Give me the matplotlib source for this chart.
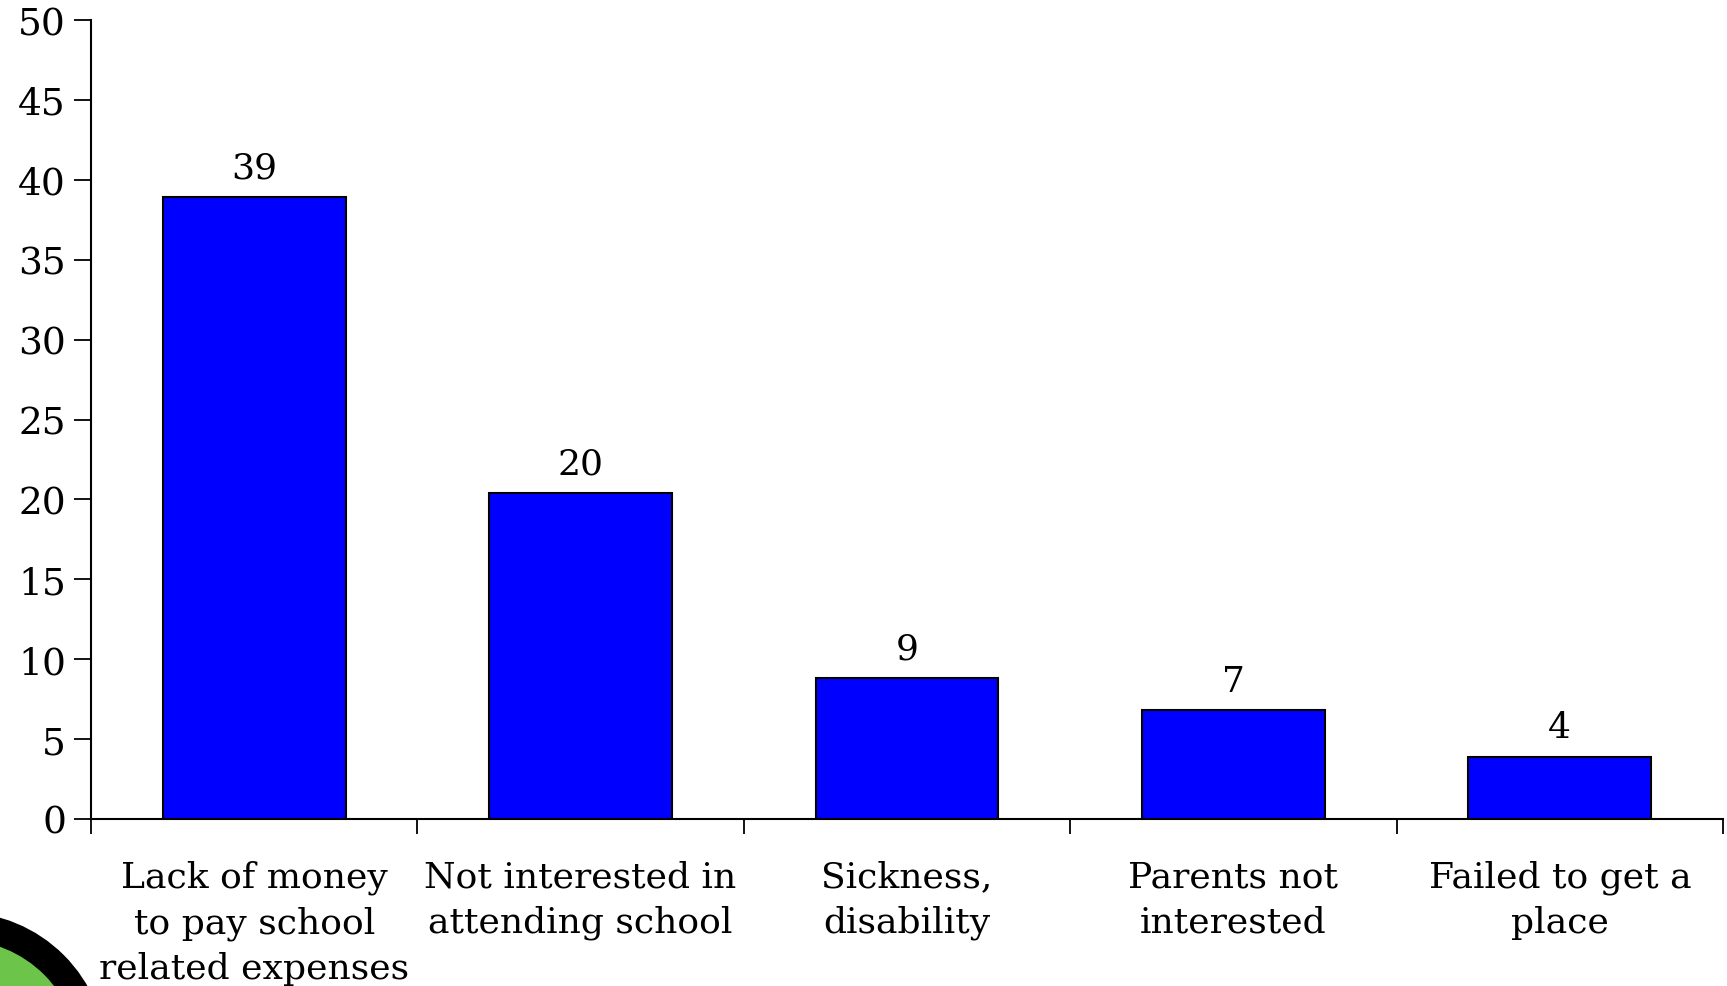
import matplotlib
matplotlib.use("Agg")
import matplotlib.pyplot as plt
from matplotlib.patches import Ellipse

categories = ["Lack of money\nto pay school\nrelated expenses",
              "Not interested in\nattending school",
              "Sickness,\ndisability",
              "Parents not\ninterested",
              "Failed to get a\nplace"]
values = [38.9, 20.4, 8.8, 6.8, 3.9]
value_labels = ["39", "20", "9", "7", "4"]
yticks = [0, 5, 10, 15, 20, 25, 30, 35, 40, 45, 50]

plt.rcParams['font.family'] = ['DejaVu Serif']

fig = plt.figure(figsize=(17.27, 9.87), dpi=100)
ax = fig.add_axes([0.0527, 0.1692, 0.9450, 0.8095])

x = list(range(len(categories)))
ax.bar(x, values, width=0.56, color="#0000ff", edgecolor="black", linewidth=1.5)

for xi, v, lab in zip(x, values, value_labels):
    ax.annotate(lab, (xi, v), xytext=(0, 9), textcoords="offset points",
                ha="center", va="bottom", fontsize=26)

ax.set_xlim(-0.5, len(categories) - 0.5)
ax.set_ylim(0, 50)
ax.set_yticks(yticks)
ax.set_yticklabels([str(t) for t in yticks], fontsize=27)

# tick marks at category boundaries, labels at centres
ax.set_xticks([i - 0.5 for i in range(len(categories) + 1)])
ax.set_xticklabels([])
ax.set_xticks(x, minor=True)
ax.set_xticklabels(categories, minor=True, fontsize=26, linespacing=1.42)
ax.tick_params(axis="x", which="major", length=11, width=1.3, direction="out")
ax.tick_params(axis="x", which="minor", length=0, pad=29)
ax.tick_params(axis="y", length=12, width=1.3, direction="out", pad=6)

for s in ["top", "right"]:
    ax.spines[s].set_visible(False)
for s in ["left", "bottom"]:
    ax.spines[s].set_linewidth(1.5)

# partial logo in lower-left corner
r = 133
fig.add_artist(Ellipse((-40 / 1727, -73 / 987), 2 * r / 1727, 2 * r / 987,
                       facecolor="#6cc44a", edgecolor="black", linewidth=20,
                       transform=fig.transFigure, clip_on=False))

fig.savefig("out.png", dpi=100)
